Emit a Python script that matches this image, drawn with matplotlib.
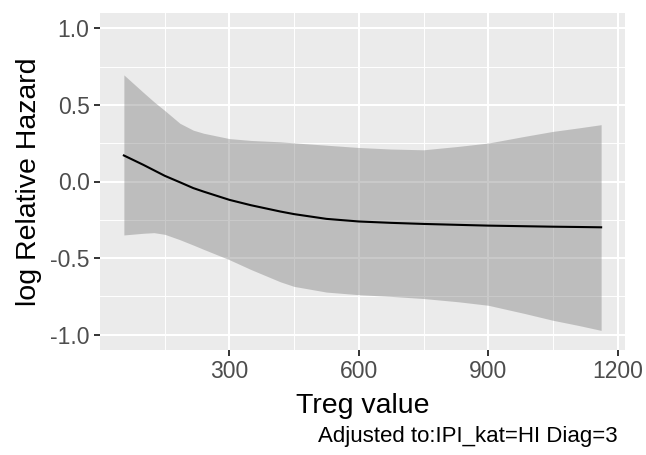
import matplotlib.pyplot as plt

# values
treg = [55, 100, 125, 150, 185, 216, 240, 300, 350, 418, 450, 525, 600,
        675, 750, 830, 900, 985, 1050, 1110, 1162]
log_hr = [0.17, 0.109, 0.073, 0.037, -0.005, -0.043, -0.066, -0.12, -0.155, -0.196,
          -0.213, -0.244, -0.261, -0.27, -0.277, -0.283, -0.288, -0.292, -0.295,
          -0.297, -0.299]
upper = [0.696, 0.582, 0.52, 0.463, 0.38, 0.335, 0.315, 0.28, 0.268, 0.259,
         0.252, 0.237, 0.222, 0.212, 0.207, 0.229, 0.251, 0.295, 0.327, 0.35, 0.371]
lower = [-0.349, -0.338, -0.334, -0.345, -0.38, -0.415, -0.443, -0.511, -0.575,
         -0.655, -0.685, -0.722, -0.739, -0.75, -0.764, -0.785, -0.808, -0.862,
         -0.906, -0.94, -0.972]

x_ticks = [300, 600, 900, 1200]
x_minor = [150, 450, 750, 1050]
y_ticks = [-1.0, -0.5, 0.0, 0.5, 1.0]
y_minor = [-0.75, -0.25, 0.25, 0.75]

plt.rcParams['font.family'] = ['Liberation Sans', 'DejaVu Sans']

W, H = 646, 455
fig = plt.figure(figsize=(W / 100, H / 100), dpi=100)
ax = fig.add_axes([100 / W, 1 - 350 / H, 525 / W, 337 / H])
ax.set_facecolor('#EBEBEB')

# ggplot-like grid
for v in x_minor:
    ax.axvline(v, color='white', lw=0.7, zorder=1)
for v in y_minor:
    ax.axhline(v, color='white', lw=0.7, zorder=1)
for v in x_ticks:
    ax.axvline(v, color='white', lw=1.5, zorder=1)
for v in y_ticks:
    ax.axhline(v, color='white', lw=1.5, zorder=1)

ax.fill_between(treg, lower, upper, color='#7A7A7A', alpha=0.4, lw=0, zorder=2)
ax.plot(treg, log_hr, color='black', lw=1.5, zorder=3)

xmin, xmax = min(treg), max(treg)
pad = (xmax - xmin) * 0.05
ax.set_xlim(xmin - pad, xmax + pad)
ax.set_ylim(-1.1, 1.1)
ax.set_xticks(x_ticks)
ax.set_yticks(y_ticks)
ax.set_yticklabels(['-1.0', '-0.5', '0.0', '0.5', '1.0'])

for s in ax.spines.values():
    s.set_visible(False)
ax.tick_params(colors='#333333', length=4.5, width=1.4, labelsize=16.5,
               labelcolor='#4D4D4D', pad=3)

fig.text(362.5 / W, 1 - 413 / H, 'Treg value', ha='center', va='baseline',
         fontsize=20.5, color='black')
fig.text(29 / W, 1 - 182 / H, 'log Relative Hazard', ha='center', va='center',
         rotation=90, fontsize=20.5, color='black')
fig.text(618 / W, 1 - 442 / H, 'Adjusted to:IPI_kat=HI Diag=3',
         ha='right', va='baseline', fontsize=16, color='black')

fig.savefig('out.png', dpi=100, facecolor='white')
